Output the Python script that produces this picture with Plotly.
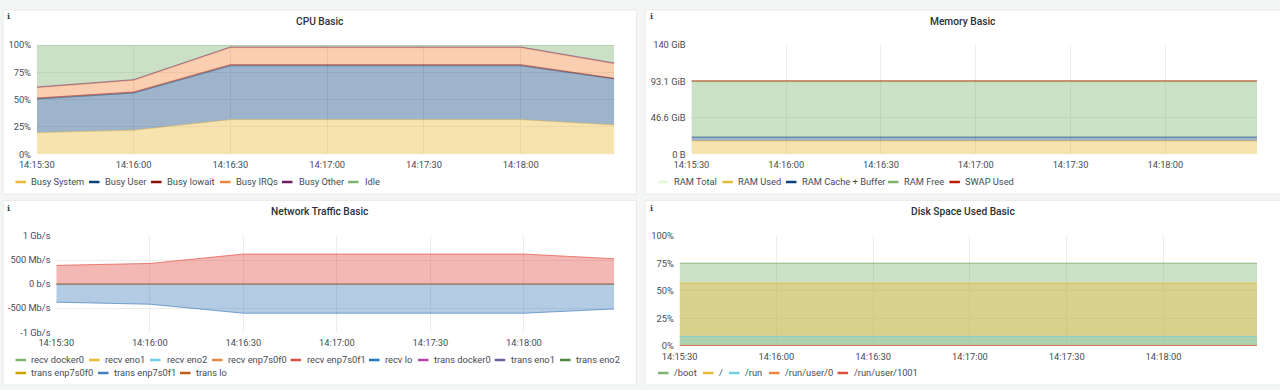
import plotly.graph_objects as go

W, H = 1280, 390
FONT = "Roboto"
TEXT = "#464c54"
GRID = "#ececec"

times = ["2024-01-01 14:15:30", "2024-01-01 14:16:00", "2024-01-01 14:16:30", "2024-01-01 14:17:00",
         "2024-01-01 14:17:30", "2024-01-01 14:18:00", "2024-01-01 14:18:29"]
x_ticks = times[:6]
x_labels = ["14:15:30", "14:16:00", "14:16:30", "14:17:00", "14:17:30", "14:18:00"]

cpu_names = ["Busy System", "Busy User", "Busy Iowait", "Busy IRQs", "Busy Other", "Idle"]
cpu_colors = ["#EAB839", "#0A437C", "#890F02", "#EF843C", "#6D1F62", "#7EB26D"]
cpu_system = [19.8, 22.0, 31.7, 31.7, 31.7, 31.7, 26.8]
cpu_user = [30.8, 34.0, 49.3, 49.3, 49.3, 49.3, 42.2]
cpu_iowait = [0.9, 1.0, 1.0, 1.0, 1.0, 1.0, 0.5]
cpu_irq = [9.5, 10.7, 15.6, 15.6, 15.6, 15.6, 13.4]
cpu_other = [0.6, 0.6, 0.6, 0.6, 0.6, 0.6, 0.6]
cpu_idle = [38.4, 31.7, 1.8, 1.8, 1.8, 1.8, 16.5]
cpu_series = [cpu_system, cpu_user, cpu_iowait, cpu_irq, cpu_other, cpu_idle]
cpu_ticks = [0, 25, 50, 75, 100]
cpu_labels = ["0%", "25%", "50%", "75%", "100%"]

mem_names = ["RAM Total", "RAM Used", "RAM Cache + Buffer", "RAM Free", "SWAP Used"]
mem_colors = ["#E0F9D7", "#EAB839", "#0A437C", "#7EB26D", "#BF1B00"]
mem_total = [93.6] * 7
mem_used = [17.0] * 7
mem_cache = [5.0] * 7
mem_free = [71.0] * 7
mem_swap = [1.0] * 7
mem_ticks = [0, 46.57, 93.13, 139.7]
mem_labels = ["0 B", "46.6 GiB", "93.1 GiB", "140 GiB"]

net_names = ["recv docker0", "recv eno1", "recv eno2", "recv enp7s0f0", "recv enp7s0f1", "recv lo",
             "trans docker0", "trans eno1", "trans eno2", "trans enp7s0f0", "trans enp7s0f1", "trans lo"]
net_colors = ["#7EB26D", "#EAB839", "#6ED0E0", "#EF843C", "#E24D42", "#1F78C1",
              "#BA43A9", "#705DA0", "#508642", "#CCA300", "#447EBC", "#C15C17"]
net_recv = [390, 430, 625, 625, 625, 625, 528]
net_trans = [-375, -417, -604, -604, -604, -604, -515]
net_zero = [0, 0, 0, 0, 0, 0, 0]
net_ticks = [-1000, -500, 0, 500, 1000]
net_labels = ["-1 Gb/s", "-500 Mb/s", "0 b/s", "500 Mb/s", "1 Gb/s"]

disk_names = ["/boot", "/", "/run", "/run/user/0", "/run/user/1001"]
disk_colors = ["#7EB26D", "#EAB839", "#6ED0E0", "#EF843C", "#E24D42"]
disk_boot = [75.2] * 7
disk_root = [57.0] * 7
disk_run = [8.5] * 7
disk_user0 = [0.1] * 7
disk_user1001 = [0.1] * 7
disk_series = [disk_boot, disk_root, disk_run, disk_user0, disk_user1001]
disk_ticks = [0, 25, 50, 75, 100]
disk_labels = ["0%", "25%", "50%", "75%", "100%"]


def rgba(hex_color, a=0.4):
    h = hex_color.lstrip("#")
    return f"rgba({int(h[:2],16)},{int(h[2:4],16)},{int(h[4:],16)},{a})"


def px(x):
    return x / W


def py(y):
    return 1 - y / H


fig = go.Figure()

# panels: left, right, top, bottom, title x, title y, info x, info y
panels = [
    (3, 636.5, 10, 194, 320, 21, 8, 16.5, "CPU Basic"),
    (645, 1282, 10, 194, 962.5, 21, 651, 16.5, "Memory Basic"),
    (3, 636.5, 200.5, 385, 320, 212, 8, 207.5, "Network Traffic Basic"),
    (645, 1282, 200.5, 385, 962.5, 212, 651, 207.5, "Disk Space Used Basic"),
]
shapes, annotations = [], []
for l, r, t, b, tx, ty, ix, iy, title in panels:
    shapes.append(dict(type="rect", xref="paper", yref="paper", x0=px(l), x1=px(r), y0=py(b), y1=py(t),
                       fillcolor="#ffffff", line=dict(color="#e9eaea", width=1), layer="below"))
    annotations.append(dict(xref="paper", yref="paper", x=px(tx), y=py(ty), text=title, showarrow=False,
                            xanchor="center", yanchor="middle",
                            font=dict(family=FONT, size=10.2, color="#2b2f36", weight=500)))
    annotations.append(dict(xref="paper", yref="paper", x=px(ix), y=py(iy), text="<b>i</b>", showarrow=False,
                            xanchor="center", yanchor="middle",
                            font=dict(family="DejaVu Serif", size=8, color="#3a3f46")))

# axis boxes: left, right, top, bottom, y-range
boxes = {
    "": (36.8, 614.3, 45, 154.3, [0, 100], cpu_ticks, cpu_labels),
    "2": (691.4, 1257, 45, 154.3, [0, 139.7], mem_ticks, mem_labels),
    "3": (56.3, 614.3, 236, 332.3, [-1000, 1000], net_ticks, net_labels),
    "4": (679.6, 1257, 236, 345.7, [0, 100], disk_ticks, disk_labels),
}
layout_axes = {}
for k, (l, r, t, b, yr, tv, tt) in boxes.items():
    layout_axes[f"xaxis{k}"] = dict(
        domain=[px(l), px(r)], range=[times[0], times[-1]], type="date", anchor=f"y{k}",
        tickvals=x_ticks, ticktext=x_labels, showgrid=True, gridcolor=GRID, gridwidth=1, automargin=False,
        ticks="outside", ticklen=2, tickcolor="rgba(0,0,0,0)", zeroline=False, showline=False,
        tickfont=dict(family=FONT, size=9.3, color=TEXT))
    layout_axes[f"yaxis{k}"] = dict(
        domain=[py(b), py(t)], range=yr, anchor=f"x{k}",
        tickvals=tv, ticktext=tt, showgrid=True, gridcolor=GRID, gridwidth=1, automargin=False,
        ticks="outside", ticklen=3, tickcolor="rgba(0,0,0,0)", zeroline=False, showline=False,
        tickfont=dict(family=FONT, size=9.3, color=TEXT))

# CPU: stacked
for name, color, vals in zip(cpu_names, cpu_colors, cpu_series):
    fig.add_trace(go.Scatter(x=times, y=vals, name=name, mode="lines", stackgroup="cpu",
                             line=dict(color=rgba(color, 0.55), width=0.9), fillcolor=rgba(color),
                             xaxis="x", yaxis="y", showlegend=False))

# Memory: total line, the rest stacked
fig.add_trace(go.Scatter(x=times, y=mem_total, name=mem_names[0], mode="lines",
                         line=dict(color=mem_colors[0], width=1), xaxis="x2", yaxis="y2", showlegend=False))
for name, color, vals in zip(mem_names[1:], mem_colors[1:], [mem_used, mem_cache, mem_free, mem_swap]):
    fig.add_trace(go.Scatter(x=times, y=vals, name=name, mode="lines", stackgroup="mem",
                             line=dict(color=rgba(color, 0.6), width=1), fillcolor=rgba(color),
                             xaxis="x2", yaxis="y2", showlegend=False))

# Network: fills to zero, unstacked
for name, color in zip(net_names, net_colors):
    vals = net_recv if name == "recv enp7s0f1" else net_trans if name == "trans enp7s0f1" else net_zero
    flat = vals is net_zero
    fig.add_trace(go.Scatter(x=times, y=vals, name=name, mode="lines", fill="tozeroy",
                             line=dict(color=rgba(color, 0.25 if flat else 0.75), width=0.9), fillcolor=rgba(color),
                             xaxis="x3", yaxis="y3", showlegend=False))

# Disk: fills to zero, unstacked
for name, color, vals in zip(disk_names, disk_colors, disk_series):
    fig.add_trace(go.Scatter(x=times, y=vals, name=name, mode="lines", fill="tozeroy",
                             line=dict(color=rgba(color, 0.8), width=1), fillcolor=rgba(color),
                             xaxis="x4", yaxis="y4", showlegend=False))

# Hand-laid legends: (key left, text left, row y)
legend_slots = [
    (cpu_names, cpu_colors, [(15.5, 31.4, 182), (89, 105, 182), (151, 167, 182), (220, 236, 182), (282, 299, 182), (348, 364.5, 182)]),
    (mem_names, mem_colors, [(658, 674, 182), (722.4, 738, 182), (786, 801.6, 182), (888, 904, 182), (949.4, 965.3, 182)]),
    (net_names, net_colors, [(15.5, 31.4, 360), (89, 105, 360), (150, 166.5, 360), (212, 227.8, 360), (290.6, 306.5, 360),
                             (369, 385, 360), (418, 434, 360), (494.7, 510.6, 360), (560, 576, 360),
                             (15.5, 31.4, 373), (98, 114, 373), (180, 196, 373)]),
    (disk_names, disk_colors, [(658, 674, 373), (703, 719, 373), (729, 745, 373), (769, 785, 373), (837.6, 853.5, 373)]),
]
for names, colors, slots in legend_slots:
    for name, color, (kx, tx, y) in zip(names, colors, slots):
        shapes.append(dict(type="line", xref="paper", yref="paper", x0=px(kx), x1=px(kx + 10.5),
                           y0=py(y), y1=py(y), line=dict(color=color, width=2.5)))
        annotations.append(dict(xref="paper", yref="paper", x=px(tx), y=py(y), text=name, showarrow=False,
                                xanchor="left", yanchor="middle", borderpad=0, xshift=-1, yshift=0.7,
                                font=dict(family=FONT, size=9.3, color=TEXT)))

fig.update_layout(width=W, height=H, margin=dict(l=0, r=0, t=0, b=0), autosize=False,
                  paper_bgcolor="#f4f5f5", plot_bgcolor="rgba(0,0,0,0)", showlegend=False,
                  shapes=shapes, annotations=annotations, **layout_axes)

fig.write_html("out.html", post_script="document.body.style.margin='0';", config={"displayModeBar": False})
